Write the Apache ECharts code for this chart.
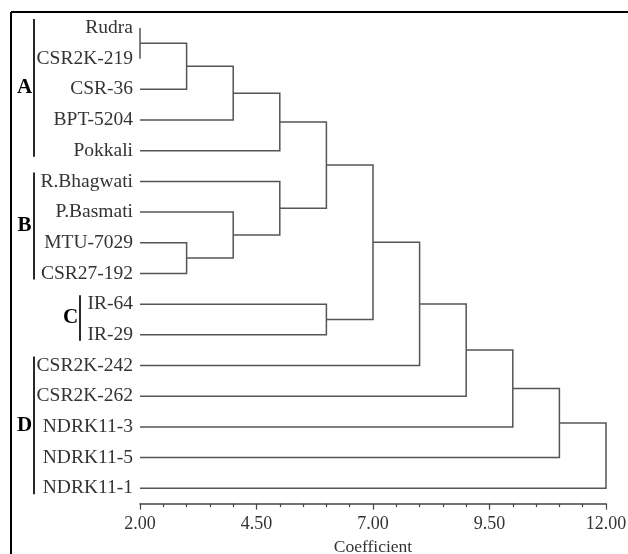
<!DOCTYPE html>
<html>
<head>
<meta charset="utf-8">
<script src="https://cdn.jsdelivr.net/npm/echarts@6/dist/echarts.min.js"></script>
<style>
html,body{margin:0;padding:0;background:#fff;}
#chart{width:628px;height:554px;}
</style>
</head>
<body>
<div id="chart"></div>
<script>
// ---- Data ----
const leaves = ['Rudra','CSR2K-219','CSR-36','BPT-5204','Pokkali','R.Bhagwati','P.Basmati','MTU-7029','CSR27-192','IR-64','IR-29','CSR2K-242','CSR2K-262','NDRK11-3','NDRK11-5','NDRK11-1'];
// merges (scipy-like): nodes 0..15 are leaves, node 16+k is merge k
const mergeLeft   = [0, 16, 17, 18, 7, 6, 5, 19, 9, 23, 25, 26, 27, 28, 29];
const mergeRight  = [1, 2, 3, 4, 8, 20, 21, 22, 10, 24, 11, 12, 13, 14, 15];
const mergeHeight = [2.0, 3.0, 4.0, 5.0, 3.0, 4.0, 5.0, 6.0, 6.0, 7.0, 8.0, 9.0, 10.0, 11.0, 12.0];
const groupNames = ['A','B','C','D'];
const groupStart = [0, 5, 9, 11];
const groupEnd   = [4, 8, 10, 15];
const axisMin = 2, axisMax = 12, axisInterval = 2.5;

// ---- Build node positions ----
const nodeY = leaves.map((_, i) => i);
const nodeH = leaves.map(() => axisMin);
const links = [];
for (let k = 0; k < mergeHeight.length; k++) {
  const a = mergeLeft[k], b = mergeRight[k], h = mergeHeight[k];
  links.push([h, nodeH[a], nodeY[a], nodeH[b], nodeY[b]]);
  nodeY.push((nodeY[a] + nodeY[b]) / 2);
  nodeH.push(h);
}
const groupData = groupNames.map((g, i) => [groupStart[i], groupEnd[i], i]);

// ---- Style config ----
const FONT = '"Liberation Serif", "Times New Roman", serif';
const groupStyle = { barX: [34, 34, 80, 34], labelX: [24.5, 24.5, 70.5, 24.5], padTop: 9, padBottom: 6 };

const chart = echarts.init(document.getElementById('chart'));
chart.setOption({
  backgroundColor: '#fff',
  animation: false,
  textStyle: { fontFamily: FONT },
  grid: { left: 140, right: 22, top: 12.6, bottom: 50.4, containLabel: false, outerBoundsMode: 'none' },
  xAxis: {
    type: 'value', min: axisMin, max: axisMax, interval: axisInterval,
    name: 'Coefficient', nameLocation: 'middle', nameGap: 33,
    nameTextStyle: { fontFamily: FONT, fontSize: 17.5, color: '#333' },
    axisLine: { show: true, onZero: false, lineStyle: { color: '#444', width: 1.5 } },
    axisTick: { show: true, length: 6, lineStyle: { color: '#444', width: 1.2 } },
    minorTick: { show: true, splitNumber: 5, length: 3.5, lineStyle: { color: '#444', width: 1.2 } },
    splitLine: { show: false },
    axisLabel: { fontFamily: FONT, fontSize: 18, color: '#333', margin: 12, formatter: v => v.toFixed(2) }
  },
  yAxis: [
    {
      type: 'category', data: leaves, inverse: true,
      axisLine: { show: false }, axisTick: { show: false }, splitLine: { show: false },
      axisLabel: { fontFamily: FONT, fontSize: 19.5, color: '#333', margin: 7 }
    },
    {
      type: 'value', min: -0.5, max: 15.5, inverse: true, show: false
    }
  ],
  series: [
    {
      type: 'custom', yAxisIndex: 1, clip: false,
      data: links,
      renderItem: function (params, api) {
        const h = api.value(0), ha = api.value(1), ya = api.value(2), hb = api.value(3), yb = api.value(4);
        const p1 = api.coord([ha, ya]), p2 = api.coord([h, ya]), p3 = api.coord([h, yb]), p4 = api.coord([hb, yb]);
        return {
          type: 'polyline',
          shape: { points: [p1, p2, p3, p4] },
          style: { stroke: '#555', lineWidth: 1.5, fill: null }
        };
      }
    },
    {
      type: 'custom', yAxisIndex: 1, clip: false,
      data: groupData,
      renderItem: function (params, api) {
        const s = api.value(0), e = api.value(1), gi = api.value(2);
        const top = api.coord([axisMin, s])[1] - groupStyle.padTop;
        const bot = api.coord([axisMin, e])[1] + groupStyle.padBottom;
        const bx = groupStyle.barX[gi], lx = groupStyle.labelX[gi];
        return {
          type: 'group',
          children: [
            { type: 'line', shape: { x1: bx, y1: top, x2: bx, y2: bot }, style: { stroke: '#111', lineWidth: 1.8 } },
            { type: 'text', x: lx, y: (top + bot) / 2,
              style: { text: groupNames[gi], font: 'bold 21px "Liberation Serif", serif', fill: '#000', align: 'center', verticalAlign: 'middle' } }
          ]
        };
      }
    }
  ],
  graphic: [
    { type: 'line', shape: { x1: 11, y1: 12, x2: 628, y2: 12 }, style: { stroke: '#000', lineWidth: 2 } },
    { type: 'line', shape: { x1: 11, y1: 12, x2: 11, y2: 554 }, style: { stroke: '#000', lineWidth: 2 } }
  ]
});
</script>
</body>
</html>
